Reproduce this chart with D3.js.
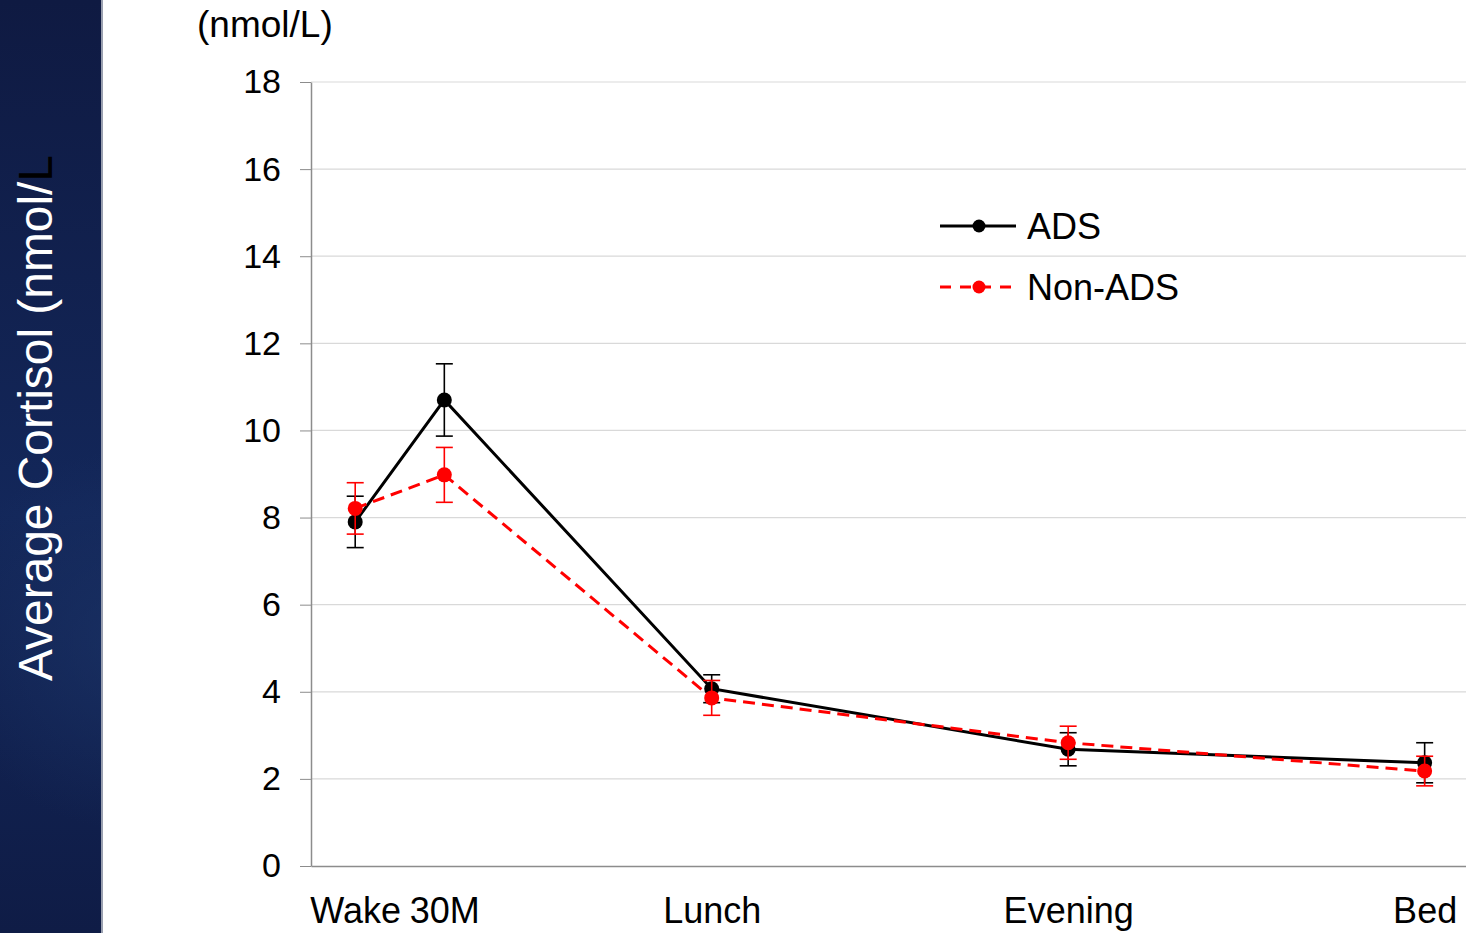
<!DOCTYPE html>
<html>
<head>
  <meta charset="utf-8">
  <script src="https://d3js.org/d3.v7.min.js"></script>
  <style>
    body { margin: 0; background: #fff; }
    svg { display: block; font-family: "Liberation Sans", Arial, sans-serif; }
    .axis path { stroke: #8c8c8c; }
    .axis line { stroke: #8c8c8c; }
    .grid line { stroke: #d9d9d9; stroke-width: 1.2px; }
  </style>
</head>
<body>
  <div id="chart"></div>
  <script>
    // time points (x position in "slot" units: 30M sits a quarter slot after Wake)
    var timeLabels = ["Wake", "30M", "Lunch", "Evening", "Bed"];
    var timePos = [0, 0.25, 1, 2, 3];

    var adsMean = [7.90, 10.70, 4.07, 2.68, 2.37];
    var adsErr = [0.59, 0.83, 0.32, 0.38, 0.46];
    var nonAdsMean = [8.21, 8.98, 3.86, 2.83, 2.18];
    var nonAdsErr = [0.59, 0.63, 0.40, 0.38, 0.34];

    var yTicks = [0, 2, 4, 6, 8, 10, 12, 14, 16, 18];

    var width = 1466, height = 933;
    var margin = { top: 82, right: 0, bottom: 67, left: 311 };

    var svg = d3.select("#chart").append("svg")
      .attr("width", width)
      .attr("height", height);

    // left dark panel with vertical title
    var defs = svg.append("defs");
    var grad = defs.append("linearGradient").attr("id", "panelGrad")
      .attr("x1", "0%").attr("y1", "0%").attr("x2", "0%").attr("y2", "100%");
    grad.append("stop").attr("offset", "0%").attr("stop-color", "#0f1a42");
    grad.append("stop").attr("offset", "55%").attr("stop-color", "#13275a");
    grad.append("stop").attr("offset", "100%").attr("stop-color", "#0f1c46");
    var rad = defs.append("radialGradient").attr("id", "panelGlow");
    rad.append("stop").attr("offset", "0%").attr("stop-color", "#1b3366").attr("stop-opacity", 0.7);
    rad.append("stop").attr("offset", "100%").attr("stop-color", "#1b3366").attr("stop-opacity", 0);

    svg.append("rect").attr("x", 0).attr("y", 0).attr("width", 102).attr("height", height)
      .attr("fill", "url(#panelGrad)");
    svg.append("circle").attr("cx", 130).attr("cy", 640).attr("r", 190)
      .attr("fill", "url(#panelGlow)");
    svg.append("rect").attr("x", 102).attr("y", 0).attr("width", 400).attr("height", height)
      .attr("fill", "#fff");
    svg.append("rect").attr("x", 101).attr("y", 0).attr("width", 2).attr("height", height)
      .attr("fill", "#9aa0b0");

    var title = svg.append("text")
      .attr("transform", "translate(52,681) rotate(-90)")
      .attr("font-size", 48)
      .attr("fill", "#fff")
      .attr("textLength", 526)
      .attr("lengthAdjust", "spacingAndGlyphs");
    title.append("tspan").text("Average Cortisol (nmol/");
    title.append("tspan").attr("fill", "#000").text("L");

    var x = d3.scaleLinear().domain([-0.124, 3.116]).range([margin.left, width - margin.right]);
    var y = d3.scaleLinear().domain([0, 18]).range([height - margin.bottom, margin.top]);

    // gridlines
    svg.append("g").attr("class", "grid")
      .selectAll("line").data(yTicks.slice(1)).enter().append("line")
      .attr("x1", margin.left).attr("x2", width)
      .attr("y1", function(d) { return y(d); })
      .attr("y2", function(d) { return y(d); });

    // y axis
    var yAxis = svg.append("g").attr("class", "axis")
      .attr("transform", "translate(" + margin.left + ",0)")
      .call(d3.axisLeft(y).tickValues(yTicks).tickSize(11).tickSizeOuter(0).tickPadding(19));
    yAxis.selectAll("text").attr("font-size", 34).attr("fill", "#000")
      .attr("font-family", "'Liberation Sans', Arial, sans-serif");
    yAxis.select(".domain").attr("stroke-width", 1.5);

    // x axis
    var xAxis = svg.append("g").attr("class", "axis")
      .attr("transform", "translate(0," + y(0) + ")")
      .call(d3.axisBottom(x).tickValues(timePos)
        .tickFormat(function(d, i) { return timeLabels[i]; })
        .tickSize(0).tickSizeOuter(0).tickPadding(31));
    xAxis.selectAll("text").attr("font-size", 36).attr("fill", "#000")
      .attr("font-family", "'Liberation Sans', Arial, sans-serif");
    xAxis.select(".domain").attr("stroke-width", 1.5);

    svg.append("text").attr("x", 197).attr("y", 37)
      .attr("font-size", 37).attr("fill", "#000")
      .text("(nmol/L)");

    var series = [
      { name: "ADS", mean: adsMean, err: adsErr, color: "#000", dash: null },
      { name: "Non-ADS", mean: nonAdsMean, err: nonAdsErr, color: "#ff0000", dash: "12,7" }
    ];

    var line = d3.line()
      .x(function(d, i) { return x(timePos[i]); })
      .y(function(d) { return y(d); });

    series.forEach(function(s) {
      var g = svg.append("g");
      // error bars
      var eb = g.selectAll(".eb").data(s.mean).enter().append("g");
      eb.append("line")
        .attr("x1", function(d, i) { return x(timePos[i]); })
        .attr("x2", function(d, i) { return x(timePos[i]); })
        .attr("y1", function(d, i) { return y(d + s.err[i]); })
        .attr("y2", function(d, i) { return y(d - s.err[i]); })
        .attr("stroke", s.color).attr("stroke-width", 1.6);
      [1, -1].forEach(function(sign) {
        eb.append("line")
          .attr("x1", function(d, i) { return x(timePos[i]) - 8.5; })
          .attr("x2", function(d, i) { return x(timePos[i]) + 8.5; })
          .attr("y1", function(d, i) { return y(d + sign * s.err[i]); })
          .attr("y2", function(d, i) { return y(d + sign * s.err[i]); })
          .attr("stroke", s.color).attr("stroke-width", 1.6);
      });
      g.append("path").datum(s.mean)
        .attr("d", line)
        .attr("fill", "none")
        .attr("stroke", s.color)
        .attr("stroke-width", 3)
        .attr("stroke-dasharray", s.dash);
      g.selectAll("circle").data(s.mean).enter().append("circle")
        .attr("cx", function(d, i) { return x(timePos[i]); })
        .attr("cy", function(d) { return y(d); })
        .attr("r", 7.5)
        .attr("fill", s.color);
    });

    // legend
    var legend = svg.append("g");
    series.forEach(function(s, i) {
      var ly = 226 + i * 61;
      legend.append("line")
        .attr("x1", 940).attr("x2", 1016).attr("y1", ly).attr("y2", ly)
        .attr("stroke", s.color).attr("stroke-width", 2.8)
        .attr("stroke-dasharray", s.dash ? "11,9" : null);
      legend.append("circle").attr("cx", 979).attr("cy", ly).attr("r", 6.5)
        .attr("fill", s.color);
      legend.append("text").attr("x", 1027).attr("y", ly + 13)
        .attr("font-size", 36).attr("fill", "#000").text(s.name);
    });
  </script>
</body>
</html>
